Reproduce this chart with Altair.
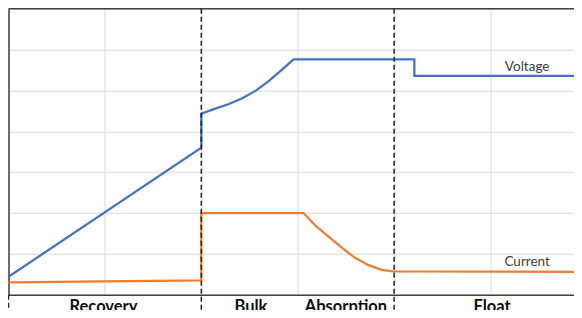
import altair as alt
import pandas as pd

# Data (x in grid units, y in grid units)
volt_x = [0.0, 2.0, 2.0, 2.115, 2.287, 2.425, 2.562, 2.699, 2.837, 2.957, 4.21, 4.21, 5.94]
volt_y = [0.44, 3.60, 4.43, 4.53, 4.67, 4.81, 4.99, 5.23, 5.51, 5.76, 5.76, 5.36, 5.36]

curr_x = [0.0, 2.0, 2.0, 3.06, 3.18, 3.32, 3.46, 3.59, 3.73, 3.87, 3.99, 5.94]
curr_y = [0.30, 0.35, 2.00, 2.00, 1.70, 1.42, 1.15, 0.91, 0.73, 0.61, 0.57, 0.56]

series_labels = ["Voltage", "Current"]
series_label_x = [5.38, 5.38]
series_label_y = [5.57, 0.80]

phases = ["Recovery", "Bulk", "Absorption", "Float"]
phase_x = [0.985, 2.515, 3.50, 5.016]

divider_x = [0.0, 2.0, 4.0]
divider_top = [0.0, 7.0, 7.0]

title = "Battery Charging Curve"

rows = []
for i, (x, y) in enumerate(zip(volt_x, volt_y)):
    rows.append({"series": "Voltage", "x": x, "y": y, "i": i})
for i, (x, y) in enumerate(zip(curr_x, curr_y)):
    rows.append({"series": "Current", "x": x, "y": y, "i": i})
lines_df = pd.DataFrame(rows)

labels_df = pd.DataFrame({"t": series_labels, "x": series_label_x, "y": series_label_y})
phase_df = pd.DataFrame({"t": phases, "x": phase_x, "y": [-0.41] * len(phases)})
div_df = pd.DataFrame({"x": divider_x, "y": divider_top, "y2": [-1.0] * len(divider_x)})

xs = alt.Scale(domain=[0, 5.866], nice=False, zero=False)
ys = alt.Scale(domain=[0, 7], nice=False, zero=False)

grid = alt.Chart(pd.DataFrame({"x": [0.0], "y": [0.0]})).mark_point(opacity=0).encode(
    x=alt.X("x:Q", scale=xs, axis=alt.Axis(values=[0, 1, 2, 3, 4, 5], labels=False, ticks=False,
                                            title=None, grid=True, gridColor="#d9d9d9", gridWidth=1,
                                            domainColor="#404040", domainWidth=1.5)),
    y=alt.Y("y:Q", scale=ys, axis=alt.Axis(values=[0, 1, 2, 3, 4, 5, 6, 7], labels=False, ticks=False,
                                            title=None, grid=True, gridColor="#d9d9d9", gridWidth=1,
                                            domainColor="#404040", domainWidth=1.5)),
)

top_border = alt.Chart(pd.DataFrame({"y": [7.0]})).mark_rule(color="#404040", strokeWidth=1.5).encode(
    y=alt.Y("y:Q", scale=ys), x=alt.value(0), x2=alt.value(600)
)

lines = alt.Chart(lines_df).mark_line(strokeWidth=2.25).encode(
    x=alt.X("x:Q", scale=xs),
    y=alt.Y("y:Q", scale=ys),
    color=alt.Color("series:N", scale=alt.Scale(domain=["Voltage", "Current"], range=["#4472C4", "#ED7D31"]),
                    legend=None),
    order="i:Q",
)

dividers = alt.Chart(div_df).mark_rule(color="#262626", strokeWidth=1.5, strokeDash=[5, 3]).encode(
    x=alt.X("x:Q", scale=xs), y=alt.Y("y:Q", scale=ys), y2="y2:Q"
)

series_text = alt.Chart(labels_df).mark_text(font="Lato", fontSize=13.5, color="#404040").encode(
    x=alt.X("x:Q", scale=xs), y=alt.Y("y:Q", scale=ys), text="t:N"
)

phase_text = alt.Chart(phase_df).mark_text(font="Lato", fontSize=16.5, fontWeight="bold", color="#0d0d0d",
                                           baseline="alphabetic").encode(
    x=alt.X("x:Q", scale=xs), y=alt.Y("y:Q", scale=ys), text="t:N"
)

chart = alt.layer(grid, top_border, lines, dividers, series_text, phase_text).properties(
    width=565.5, height=286,
    autosize="none",
    padding={"left": 0.5, "top": 0.75, "right": 0, "bottom": 15.25},
    title=alt.TitleParams(title, font="Lato", fontSize=16, fontWeight="bold", color="#404040", offset=4),
).configure_view(stroke=None)

chart.save("out.html", embed_options={"renderer": "svg", "actions": False})
